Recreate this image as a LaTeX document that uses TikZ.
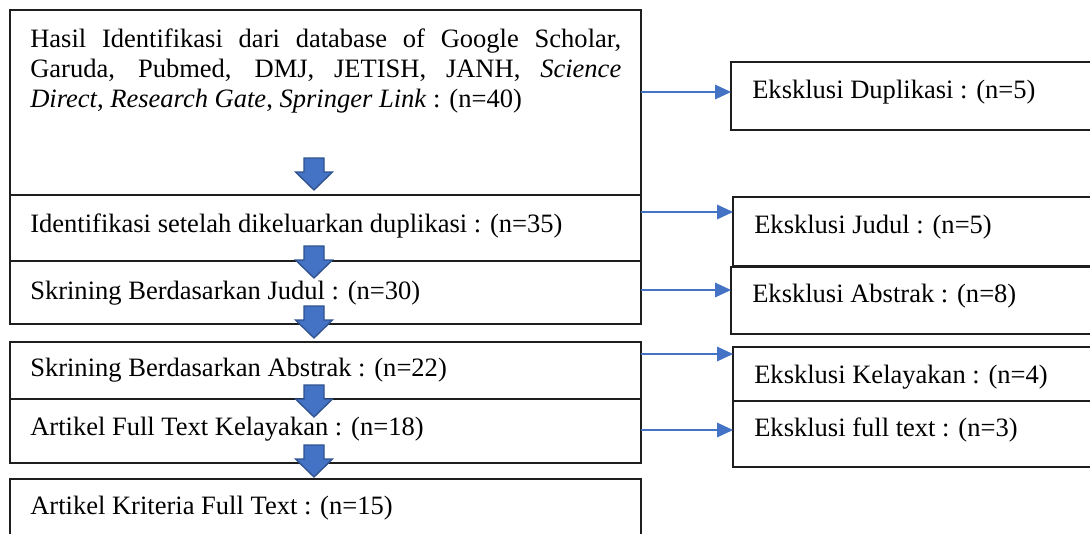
\documentclass[tikz,border=0pt]{standalone}
\usepackage{fontspec}
\setmainfont{Liberation Serif}
\usetikzlibrary{arrows.meta,fit}
\definecolor{ablue}{HTML}{4472C4}
\definecolor{dblue}{HTML}{2F528F}
\definecolor{edgec}{HTML}{1E1E1E}
\newcommand{\fsz}{\fontsize{19.9pt}{22.5pt}\selectfont}
\begin{document}
\begin{tikzpicture}[x=0.75pt,y=-0.75pt,
  box/.style={draw=edgec, line width=1.1pt, inner sep=0pt, outer sep=0pt},
  txt/.style={anchor=base west, inner sep=0pt, font=\fsz, text=black},
  conn/.style={draw=ablue, line width=0.9pt, -{Triangle[length=12pt,width=11pt]}},
  blockarrow/.pic={\filldraw[fill=ablue, draw=dblue, line width=1pt]
    (-10,0) -- (10,0) -- (10,14) -- (18.5,14) -- (0,32) -- (-18.5,14) -- (-10,14) -- cycle;}]
\useasboundingbox (0,0) rectangle (1090,533);
\clip (0,0) rectangle (1090,533);
% left boxes
\coordinate (l1a) at (10,10);   \coordinate (l1b) at (641,195);
\coordinate (l2a) at (10,195);  \coordinate (l2b) at (641,261);
\coordinate (l3a) at (10,261);  \coordinate (l3b) at (641,324);
\coordinate (l4a) at (10,342);  \coordinate (l4b) at (641,399);
\coordinate (l5a) at (10,399);  \coordinate (l5b) at (641,463);
\coordinate (l6a) at (10,479);  \coordinate (l6b) at (641,560);
\node[box, fit=(l1a)(l1b)] (b1) {};
\node[box, fit=(l2a)(l2b)] (b2) {};
\node[box, fit=(l3a)(l3b)] (b3) {};
\node[box, fit=(l4a)(l4b)] (b4) {};
\node[box, fit=(l5a)(l5b)] (b5) {};
\node[box, fit=(l6a)(l6b)] (b6) {};
% right boxes
\coordinate (r1a) at (731,62);  \coordinate (r1b) at (1110,130);
\coordinate (r2a) at (733,197); \coordinate (r2b) at (1110,266);
\coordinate (r3a) at (731,267); \coordinate (r3b) at (1110,334);
\coordinate (r4a) at (733,347); \coordinate (r4b) at (1110,401);
\coordinate (r5a) at (733,401); \coordinate (r5b) at (1110,467);
\node[box, fit=(r1a)(r1b)] (dup) {};
\node[box, fit=(r2a)(r2b)] (jud) {};
\node[box, fit=(r3a)(r3b)] (abs) {};
\node[box, fit=(r4a)(r4b)] (kel) {};
\node[box, fit=(r5a)(r5b)] (ful) {};
% texts
\node[txt, text width=443.25pt, align=justify] (t1) at (30,47)
  {Hasil Identifikasi dari database of Google Scholar,\linebreak Garuda, Pubmed, DMJ, JETISH, JANH, \textit{Science}\linebreak \textit{Direct}, \textit{Research Gate}, \textit{Springer Link} : (n=40)};
\node[txt] (t2) at (30,232) {Identifikasi setelah dikeluarkan duplikasi : (n=35)};
\node[txt] (t3) at (30,299) {Skrining Berdasarkan Judul : (n=30)};
\node[txt] (t4) at (30,376) {Skrining Berdasarkan Abstrak : (n=22)};
\node[txt] (t5) at (30,435) {Artikel Full Text Kelayakan : (n=18)};
\node[txt] (t6) at (30,514) {Artikel Kriteria Full Text : (n=15)};
\node[txt] (u1) at (752,98) {Eksklusi Duplikasi : (n=5)};
\node[txt] (u2) at (754,233) {Eksklusi Judul : (n=5)};
\node[txt] (u3) at (752,302) {Eksklusi Abstrak : (n=8)};
\node[txt] (u4) at (754,383) {Eksklusi Kelayakan : (n=4)};
\node[txt] (u5) at (754,436) {Eksklusi full text : (n=3)};
% connectors
\draw[conn] (b1.east |- 0,92)  -- (dup.west |- 0,92);
\draw[conn] (b2.east |- 0,212) -- (jud.west |- 0,212);
\draw[conn] (b3.east |- 0,290) -- (abs.west |- 0,290);
\draw[conn] (b4.east |- 0,354) -- (kel.west |- 0,354);
\draw[conn] (b5.east |- 0,430) -- (ful.west |- 0,430);
% block arrows
\pic at (314,158) {blockarrow};
\pic at (314,246) {blockarrow};
\pic at (314,306) {blockarrow};
\pic at (314,385) {blockarrow};
\pic at (314,445) {blockarrow};
\end{tikzpicture}
\end{document}
